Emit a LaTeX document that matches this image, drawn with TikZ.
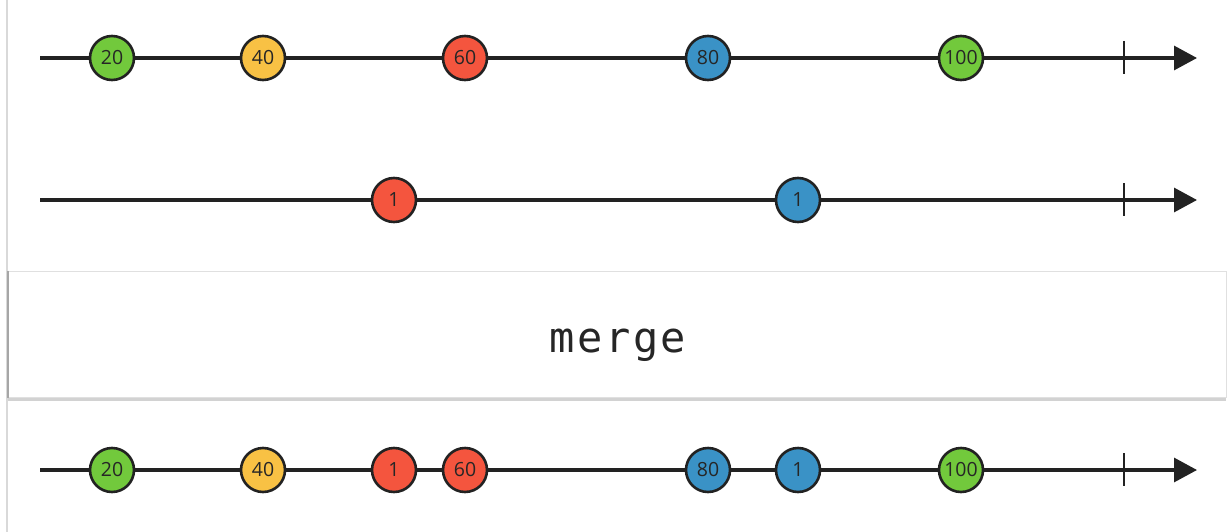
\documentclass[tikz,border=0pt]{standalone}
\usepackage{fontspec}
\usepackage{tikz}
\usetikzlibrary{arrows.meta, positioning, shadows}
\newfontfamily\marblefont{Open Sans}
\newfontfamily\opfont[LetterSpace=6]{DejaVu Sans Mono}
\definecolor{mgreen}{HTML}{72C93C}
\definecolor{myellow}{HTML}{F8C144}
\definecolor{mred}{HTML}{F4553E}
\definecolor{mblue}{HTML}{3A92C6}
\definecolor{mline}{HTML}{222222}

\begin{document}
\begin{tikzpicture}[x=1pt,y=-1pt]
  \tikzstyle{marble}=[circle,draw=mline,line width=2.6pt,minimum size=44pt,inner sep=0pt,
    font=\marblefont\fontsize{19.5}{19.5}\selectfont,text=black!85]
  \tikzstyle{timeline}=[draw=mline,line width=3.2pt,-{Triangle[length=23pt,width=24pt]}]
  \tikzstyle{done}=[draw=mline,line width=2.6pt]

  \useasboundingbox[fill=white] (0,0) rectangle (1230,532);
  \draw[black!15,line width=1.2pt] (7,0) -- (7,532);

  % first input
  \coordinate (a_s) at (40,58);
  \coordinate (a_e) at (1197,58);
  \draw[timeline] (a_s) -- (a_e);
  \draw[done] (1124,41) -- (1124,74);
  \node[marble,fill=mgreen]  (a_1) at (112,58) {20};
  \node[marble,fill=myellow] (a_2) at (263,58) {40};
  \node[marble,fill=mred]    (a_3) at (465,58) {60};
  \node[marble,fill=mblue]   (a_4) at (708,58) {80};
  \node[marble,fill=mgreen]  (a_5) at (961,58) {100};

  % second input
  \coordinate (b_s) at (40,200);
  \coordinate (b_e) at (1197,200);
  \draw[timeline] (b_s) -- (b_e);
  \draw[done] (1124,183) -- (1124,216);
  \node[marble,fill=mred]    (b_1) at (394,200) {1};
  \node[marble,fill=mblue]   (b_2) at (798,200) {1};

  % operator
  \node[draw=black!12,fill=white,line width=1pt,minimum width=1218pt,minimum height=126pt,
    drop shadow={shadow xshift=0pt,shadow yshift=-4pt,opacity=.35}] (op) at (617,334) {};
  \node[font=\opfont\fontsize{42}{42}\selectfont,text=black!85,anchor=base]
    (op_t) at (618,352) {merge};
  \draw[black!35,line width=2pt] (op.north west) -- (op.south west);

  % output
  \coordinate (c_s) at (40,470);
  \coordinate (c_e) at (1197,470);
  \draw[timeline] (c_s) -- (c_e);
  \draw[done] (1124,453) -- (1124,486);
  \node[marble,fill=mgreen]  (c_1) at (112,470) {20};
  \node[marble,fill=myellow] (c_2) at (263,470) {40};
  \node[marble,fill=mred]    (c_3) at (394,470) {1};
  \node[marble,fill=mred]    (c_4) at (465,470) {60};
  \node[marble,fill=mblue]   (c_5) at (708,470) {80};
  \node[marble,fill=mblue]   (c_6) at (798,470) {1};
  \node[marble,fill=mgreen]  (c_7) at (961,470) {100};
\end{tikzpicture}
\end{document}
